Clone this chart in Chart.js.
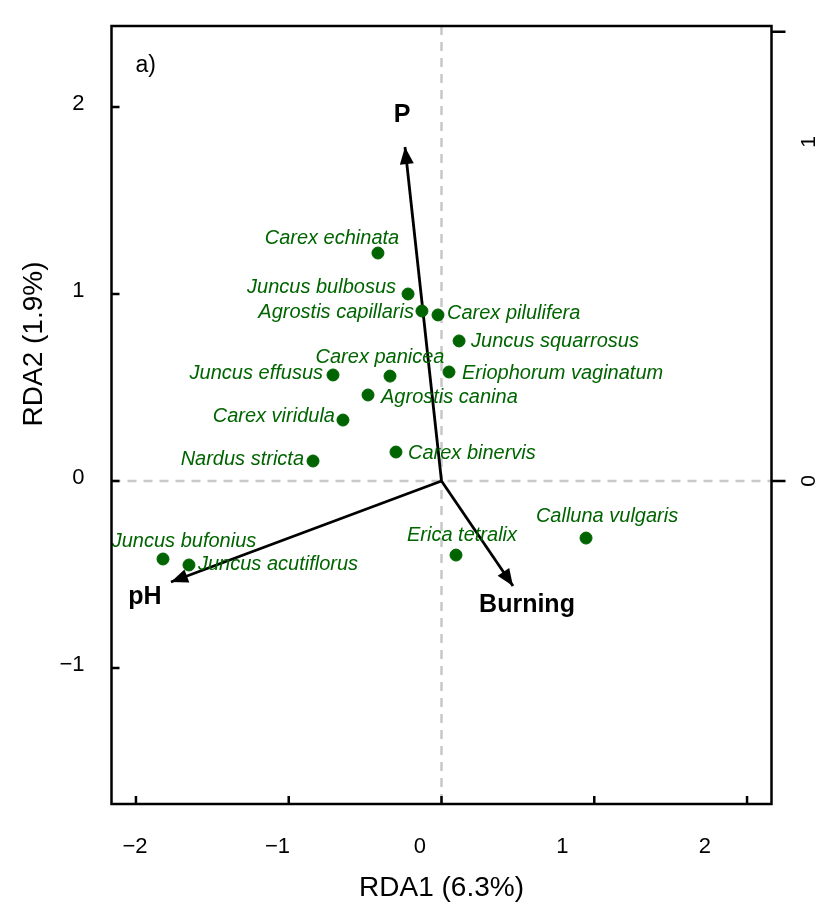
<!DOCTYPE html>
<html>
<head>
<meta charset="utf-8">
<title>RDA biplot</title>
<script src="https://cdn.jsdelivr.net/npm/chart.js@4.4.1/dist/chart.umd.min.js"></script>
<style>
  html, body { margin: 0; padding: 0; background: #fff; }
  #wrap { width: 821px; height: 911px; }
</style>
</head>
<body>
<div id="wrap"><canvas id="rdaChart" width="821" height="911"></canvas></div>
<script>
// species scores
const species = [
  "Carex echinata", "Juncus bulbosus", "Agrostis capillaris", "Carex pilulifera",
  "Juncus squarrosus", "Carex panicea", "Juncus effusus", "Eriophorum vaginatum",
  "Agrostis canina", "Carex viridula", "Nardus stricta", "Carex binervis",
  "Calluna vulgaris", "Erica tetralix", "Juncus bufonius", "Juncus acutiflorus"
];
const rda1 = [-0.416, -0.219, -0.128, -0.023, 0.115, -0.337, -0.710, 0.049,
              -0.481, -0.645, -0.841, -0.298, 0.946, 0.095, -1.823, -1.653];
const rda2 = [1.219, 1.000, 0.909, 0.888, 0.749, 0.561, 0.567, 0.583,
              0.460, 0.326, 0.107, 0.155, -0.305, -0.396, -0.417, -0.449];

// environmental vectors
const envVars = ["P", "pH", "Burning"];
const envRda1 = [-0.239, -1.771, 0.468];
const envRda2 = [1.786, -0.540, -0.561];

// axes
const xTicks = [-2, -1, 0, 1, 2];
const yTicks = [-1, 0, 1, 2];
const rightTicks = [0, 1];
const rightLabels = [0, 1];
const xTitle = "RDA1 (6.3%)";
const yTitle = "RDA2 (1.9%)";
const panelTag = "a)";

// label placement (align, dx, dy in px from the point)
const labelLayout = [
  ["center", -46, -15], ["right", -12, -7], ["right", -8, 1], ["left", 9, -2],
  ["left", 12, 0], ["center", -10, -19], ["right", -10, -2], ["left", 13, 1],
  ["left", 13, 2], ["right", -8, -4], ["right", -9, -2], ["left", 12, 1],
  ["center", 21, -22], ["center", 6, -20], ["center", 21, -18], ["left", 9, -1]
];
const envLabelLayout = [[-3, -32], [-26, 15], [14, 19]];

const GREEN = "#006400";
const FONT = "'Liberation Sans', Arial, sans-serif";

function minus(v) {
  return String(v).replace("-", "\u2212");
}

const frame = {
  id: "frame",
  beforeDatasetsDraw(chart) {
    const { ctx, chartArea: a, scales } = chart;
    const x0 = scales.x.getPixelForValue(0);
    const y0 = scales.y.getPixelForValue(0);
    ctx.save();
    ctx.strokeStyle = "#c8c8c8";
    ctx.lineWidth = 2.5;
    ctx.setLineDash([9, 7]);
    ctx.beginPath();
    ctx.moveTo(a.left, y0); ctx.lineTo(a.right, y0);
    ctx.moveTo(x0, a.top); ctx.lineTo(x0, a.bottom);
    ctx.stroke();
    ctx.restore();
  },
  afterDatasetsDraw(chart) {
    const { ctx, chartArea: a, scales } = chart;
    ctx.save();

    // arrow heads
    envVars.forEach((name, i) => {
      const pts = chart.getDatasetMeta(1 + i).data;
      const p0 = pts[0], p1 = pts[1];
      const ang = Math.atan2(p1.y - p0.y, p1.x - p0.x);
      const len = 17, half = 7;
      ctx.fillStyle = "#000";
      ctx.beginPath();
      ctx.moveTo(p1.x, p1.y);
      ctx.lineTo(p1.x - len * Math.cos(ang) + half * Math.sin(ang),
                 p1.y - len * Math.sin(ang) - half * Math.cos(ang));
      ctx.lineTo(p1.x - len * Math.cos(ang) - half * Math.sin(ang),
                 p1.y - len * Math.sin(ang) + half * Math.cos(ang));
      ctx.closePath();
      ctx.fill();

      ctx.font = "bold 25px " + FONT;
      ctx.textAlign = "center";
      ctx.textBaseline = "middle";
      ctx.fillText(name, p1.x + envLabelLayout[i][0], p1.y + envLabelLayout[i][1]);
    });

    // species labels
    const pts = chart.getDatasetMeta(0).data;
    ctx.font = "italic 20px " + FONT;
    ctx.fillStyle = GREEN;
    ctx.textBaseline = "middle";
    species.forEach((s, i) => {
      const [align, dx, dy] = labelLayout[i];
      ctx.textAlign = align;
      ctx.fillText(s, pts[i].x + dx, pts[i].y + dy);
    });

    // box
    ctx.strokeStyle = "#000";
    ctx.lineWidth = 2.5;
    ctx.strokeRect(a.left, a.top, a.right - a.left, a.bottom - a.top);

    // ticks
    ctx.lineWidth = 2.5;
    ctx.beginPath();
    xTicks.forEach(v => {
      const px = scales.x.getPixelForValue(v);
      ctx.moveTo(px, a.bottom); ctx.lineTo(px, a.bottom - 8);
    });
    yTicks.forEach(v => {
      const py = scales.y.getPixelForValue(v);
      ctx.moveTo(a.left, py); ctx.lineTo(a.left + 8, py);
    });
    rightTicks.forEach(v => {
      const py = scales.yR.getPixelForValue(v);
      ctx.moveTo(a.right, py); ctx.lineTo(a.right + 14, py);
    });
    ctx.stroke();

    // tick labels
    ctx.fillStyle = "#000";
    ctx.font = "22px " + FONT;
    ctx.textBaseline = "middle";
    ctx.textAlign = "center";
    xTicks.forEach(v => {
      ctx.fillText(minus(v), scales.xLab.getPixelForValue(v), a.bottom + 43);
    });
    ctx.textAlign = "right";
    yTicks.forEach(v => {
      ctx.fillText(minus(v), a.left - 27, scales.y.getPixelForValue(v) - 3);
    });
    ctx.font = "21px " + FONT;
    rightLabels.forEach(v => {
      ctx.save();
      ctx.translate(a.right + 38, scales.yRLab.getPixelForValue(v));
      ctx.rotate(-Math.PI / 2);
      ctx.textAlign = "center";
      ctx.fillText(minus(v), 0, 0);
      ctx.restore();
    });

    // titles
    ctx.font = "28px " + FONT;
    ctx.textAlign = "center";
    ctx.fillText(xTitle, (a.left + a.right) / 2, a.bottom + 84);
    ctx.save();
    ctx.translate(34, 344);
    ctx.rotate(-Math.PI / 2);
    ctx.fillText(yTitle, 0, 0);
    ctx.restore();

    ctx.font = "23px " + FONT;
    ctx.textAlign = "left";
    ctx.fillText(panelTag, a.left + 24, a.top + 40);

    ctx.restore();
  }
};

const datasets = [{
  type: "scatter",
  data: rda1.map((x, i) => ({ x, y: rda2[i] })),
  backgroundColor: GREEN,
  borderColor: GREEN,
  pointRadius: 6,
  pointHoverRadius: 6
}];
envVars.forEach((name, i) => {
  datasets.push({
    type: "line",
    label: name,
    data: [{ x: 0, y: 0 }, { x: envRda1[i], y: envRda2[i] }],
    borderColor: "#000",
    borderWidth: 2.8,
    pointRadius: 0,
    fill: false
  });
});

new Chart(document.getElementById("rdaChart"), {
  data: { datasets },
  options: {
    responsive: false,
    animation: false,
    layout: { padding: { left: 111.5, right: 49.5, top: 26, bottom: 107 } },
    plugins: { legend: { display: false }, tooltip: { enabled: false } },
    scales: {
      x: { type: "linear", min: -2.16, max: 2.16, display: false },
      y: { type: "linear", min: -1.727, max: 2.433, display: false },
      xLab: { type: "linear", axis: "x", min: -2.165, max: 2.467, display: false },
      yR: { type: "linear", axis: "y", min: -0.719, max: 1.013, display: false },
      yRLab: { type: "linear", axis: "y", min: -0.953, max: 1.342, display: false }
    }
  },
  plugins: [frame]
});
</script>
</body>
</html>
